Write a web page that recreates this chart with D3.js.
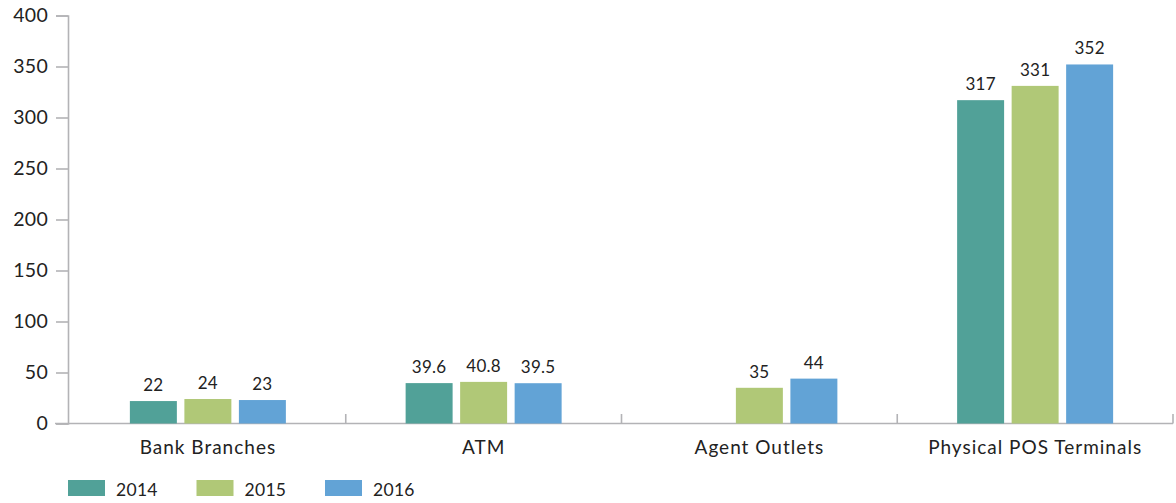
<!DOCTYPE html>
<html><head><meta charset="utf-8">
<script src="https://cdn.jsdelivr.net/npm/d3@7"></script>
<style>body{margin:0;background:#fff;} text{font-family:Lato,"Open Sans",sans-serif;fill:#222;}</style>
</head><body><svg id="c" width="1176" height="503"></svg>
<script>
const categories = ["Bank Branches","ATM","Agent Outlets","Physical POS Terminals"];
const years = ["2014","2015","2016"];
const values2014 = [22, 39.6, null, 317];
const values2015 = [24, 40.8, 35, 331];
const values2016 = [23, 39.5, 44, 352];
const yTicks = [0,50,100,150,200,250,300,350,400];
const colors = ["#51a198","#b0c877","#62a3d6"];

const series = [values2014, values2015, values2016];
const svg = d3.select("#c");
const y = d3.scaleLinear().domain([0,400]).range([423.5,15.5]);
const x0 = d3.scaleBand().domain(categories).range([70,1173]).padding(0);
const x1 = d3.scaleBand().domain(years).range([-78,78]).paddingInner(0.138).paddingOuter(0);
const axisColor = "#b3b3b6";

// y axis
const ya = svg.append("g").attr("transform","translate(68,0)")
  .call(d3.axisLeft(y).tickValues(yTicks).tickSize(12).tickPadding(8));
ya.select(".domain").attr("stroke",axisColor).attr("stroke-width",1.6);
ya.selectAll(".tick line").attr("stroke",axisColor).attr("stroke-width",1.6);
ya.selectAll(".tick text").style("font-size","19.5px").style("letter-spacing","0.3px").attr("fill","#222");

// x axis
const xa = svg.append("g").attr("transform","translate(0,423.5)")
  .call(d3.axisBottom(x0).tickSize(0).tickPadding(17));
xa.select(".domain").remove();
xa.selectAll(".tick text").style("font-size","19px").style("letter-spacing","1px").attr("fill","#222");
svg.append("line").attr("x1",55).attr("x2",1173).attr("y1",423.5).attr("y2",423.5)
  .attr("stroke",axisColor).attr("stroke-width",1.6);
categories.forEach(c=>{
  const xe = x0(c)+x0.bandwidth();
  svg.append("line").attr("x1",xe).attr("x2",xe).attr("y1",423.5).attr("y2",414)
    .attr("stroke",axisColor).attr("stroke-width",1.6);
});

// bars
categories.forEach((c,i)=>{
  const cx = x0(c)+x0.bandwidth()/2;
  years.forEach((yr,j)=>{
    const v = series[j][i];
    if(v==null) return;
    const bx = cx + x1(yr);
    svg.append("rect").attr("x",bx).attr("y",y(v)).attr("width",x1.bandwidth())
      .attr("height",y(0)-y(v)).attr("fill",colors[j]);
    svg.append("text").attr("x",bx+x1.bandwidth()/2).attr("y",y(v)-10)
      .attr("text-anchor","middle").style("font-size","17px").style("letter-spacing","0.3px").text(v);
  });
});

// legend
years.forEach((yr,j)=>{
  const lx = 68 + j*128.5;
  svg.append("rect").attr("x",lx).attr("y",480).attr("width",37).attr("height",16).attr("fill",colors[j]);
  svg.append("text").attr("x",lx+48).attr("y",496).style("font-size","17.5px").style("letter-spacing","0.3px").text(yr);
});
</script></body></html>
